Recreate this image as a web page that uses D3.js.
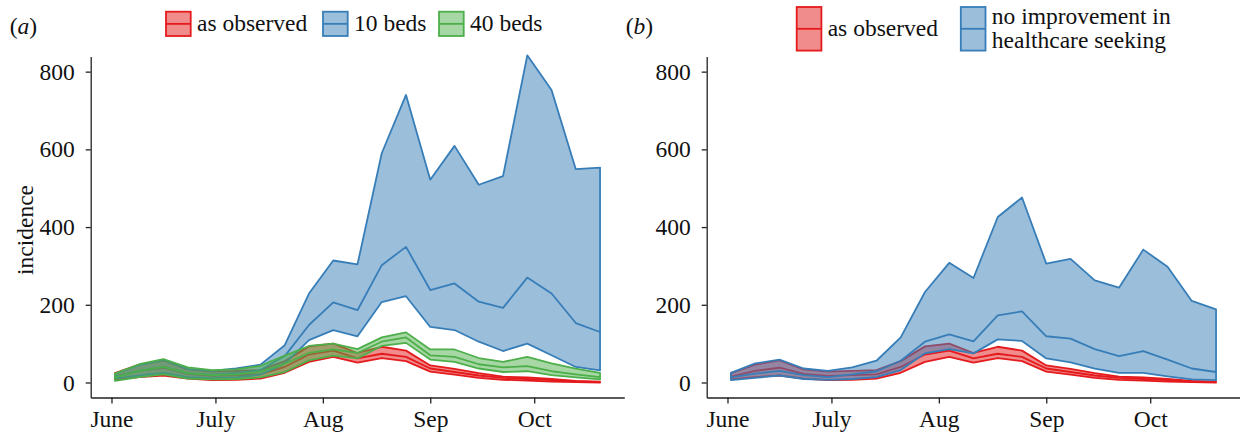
<!DOCTYPE html>
<html>
<head>
<meta charset="utf-8">
<script src="https://cdn.jsdelivr.net/npm/d3@7"></script>
<style>
body { margin: 0; background: #fff; }
svg text { font-family: "Liberation Serif", "Times New Roman", serif; fill: #111; }
</style>
</head>
<body>
<svg width="1240" height="436"></svg>
<script>
const weeks = ["2014-06-02","2014-06-09","2014-06-16","2014-06-23","2014-06-30","2014-07-07","2014-07-14",
  "2014-07-21","2014-07-28","2014-08-04","2014-08-11","2014-08-18","2014-08-25","2014-09-01",
  "2014-09-08","2014-09-15","2014-09-22","2014-09-29","2014-10-06","2014-10-13","2014-10-20"]

// as observed (same in both panels)
const observedHigh = [24, 46, 57, 34, 28, 30, 32, 55, 93, 100, 76, 92, 82, 44, 35, 24, 15, 13, 9, 4, 2]
const observedMid  = [15, 30, 38, 22, 17, 19, 21, 40, 72, 82, 62, 74, 66, 36, 27, 18, 12, 9, 6, 3, 1]
const observedLow  = [8, 14, 18, 10, 6, 7, 10, 25, 53, 66, 51, 63, 55, 28, 20, 12, 7, 5, 2, 1, 0]

// (a) 10 beds
const beds10High = [22, 45, 58, 35, 30, 36, 46, 96, 229, 314, 304, 590, 740, 522, 609, 509, 531, 842, 753, 549, 553]
const beds10Mid  = [15, 30, 40, 24, 20, 24, 32, 68, 148, 206, 186, 302, 349, 238, 255, 208, 192, 270, 229, 153, 130]
const beds10Low  = [10, 18, 25, 14, 11, 13, 20, 48, 109, 135, 119, 207, 222, 143, 135, 105, 81, 100, 70, 40, 31]

// (a) 40 beds
const beds40High = [23, 47, 60, 39, 32, 34, 43, 69, 94, 100, 86, 116, 129, 85, 85, 63, 53, 66, 49, 36, 25]
const beds40Mid  = [13, 30, 40, 24, 19, 21, 28, 48, 76, 85, 76, 105, 116, 70, 66, 47, 39, 42, 29, 21, 14]
const beds40Low  = [4, 14, 21, 10, 8, 9, 13, 27, 57, 69, 62, 94, 102, 59, 53, 36, 27, 29, 19, 13, 8]

// (b) no improvement in healthcare seeking
const noImproveHigh = [25, 49, 59, 36, 30, 39, 56, 116, 233, 308, 269, 426, 476, 306, 318, 263, 244, 342, 298, 210, 188]
const noImproveMid  = [13, 23, 30, 19, 14, 21, 29, 56, 105, 124, 106, 173, 183, 119, 113, 86, 68, 81, 59, 36, 27]
const noImproveLow  = [6, 12, 18, 9, 7, 9, 14, 32, 75, 86, 75, 111, 107, 62, 52, 36, 25, 25, 16, 8, 6]

const monthTicks = ["2014-06-01","2014-07-01","2014-08-01","2014-09-01","2014-10-01"]
const monthLabels = ["June","July","Aug","Sep","Oct"]
const yTicks = [0, 200, 400, 600, 800]

const parse = d3.timeParse("%Y-%m-%d"),
  svg = d3.select("svg"),
  fontSize = 23.5,
  lw = 1.8,
  red = "#e41a1c", blue = "#377eb8", green = "#4daf4a"

const y = d3.scaleLinear().domain([-38.6, 839]).range([397.5, 56.5])

const band = (low, mid, high, color) => ({color, rows: weeks.map((w, i) => ({date: parse(w), low: low[i], mid: mid[i], high: high[i]}))})

function panel(left, bands, tag, keys) {
  const x = d3.scaleTime().domain([parse("2014-05-26"), parse("2014-10-27")]).range([left, left + 533.6]),
    g = svg.append("g"),
    area = d3.area().x(d => x(d.date)).y0(d => y(d.low)).y1(d => y(d.high)),
    line = d3.line().x(d => x(d.date)).y(d => y(d.mid))

  bands.forEach(b => {
    g.append("path").datum(b.rows).attr("d", area)
      .style("fill", b.color).style("fill-opacity", 0.5).style("stroke", b.color).style("stroke-width", lw).style("stroke-linejoin", "round")
    g.append("path").datum(b.rows).attr("d", line)
      .style("fill", "none").style("stroke", b.color).style("stroke-width", lw).style("stroke-linejoin", "round")
  })

  const yAxis = g.append("g").attr("transform", `translate(${left},0)`)
    .call(d3.axisLeft(y).tickValues(yTicks).tickSize(5).tickPadding(11).tickSizeOuter(0))
  const xAxis = g.append("g").attr("transform", `translate(0,${y.range()[0]})`)
    .call(d3.axisBottom(x).tickValues(monthTicks.map(parse)).tickFormat((d, i) => monthLabels[i]).tickSize(6).tickPadding(6.5).tickSizeOuter(0))
  ;[yAxis, xAxis].forEach(a => {
    a.attr("font-family", null).attr("font-size", fontSize)
    a.selectAll("path, line").attr("stroke", "#222").attr("stroke-width", 1.3)
    a.selectAll("text").attr("fill", "#111")
  })

  // panel tag like (a)
  const t = svg.append("text").attr("x", left - 81).attr("y", 34).style("font-size", fontSize + "px")
  t.append("tspan").text("(")
  t.append("tspan").text(tag).style("font-style", "italic")
  t.append("tspan").text(")")

  keys.forEach(k => {
    svg.append("rect").attr("x", k.x).attr("y", k.y).attr("width", 24.7).attr("height", k.h)
      .style("fill", k.color).style("fill-opacity", 0.5).style("stroke", k.color).style("stroke-width", lw)
    svg.append("line").attr("x1", k.x).attr("x2", k.x + 24.7).attr("y1", k.y + k.h / 2).attr("y2", k.y + k.h / 2)
      .style("stroke", k.color).style("stroke-width", lw)
    const txt = svg.append("text").style("font-size", fontSize + "px")
    k.text.forEach((s, i) => txt.append("tspan").attr("x", k.x + 31).attr("y", k.base + i * 24).text(s))
  })
}

panel(90.7, [band(observedLow, observedMid, observedHigh, red), band(beds10Low, beds10Mid, beds10High, blue), band(beds40Low, beds40Mid, beds40High, green)], "a", [
  {x: 166, y: 11.7, h: 24.3, color: red, text: ["as observed"], base: 30.7},
  {x: 323, y: 11.7, h: 24.3, color: blue, text: ["10 beds"], base: 30.7},
  {x: 439, y: 11.7, h: 24.3, color: green, text: ["40 beds"], base: 30.7}
])

panel(706.7, [band(observedLow, observedMid, observedHigh, red), band(noImproveLow, noImproveMid, noImproveHigh, blue)], "b", [
  {x: 796.7, y: 7, h: 43.6, color: red, text: ["as observed"], base: 35.8},
  {x: 960.8, y: 7, h: 43.6, color: blue, text: ["no improvement in", "healthcare seeking"], base: 23.5}
])

svg.append("text").text("incidence").attr("transform", "translate(33,230) rotate(-90)")
  .style("text-anchor", "middle").style("font-size", fontSize + "px")
</script>
</body>
</html>
